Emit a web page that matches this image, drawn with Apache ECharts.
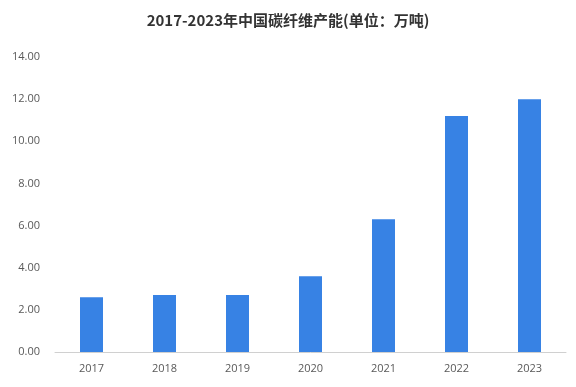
<!DOCTYPE html>
<html><head><meta charset="utf-8">
<script src="https://cdn.jsdelivr.net/npm/echarts@6/dist/echarts.min.js"></script>
<style>html,body{margin:0;padding:0;background:#fff}#c{width:576px;height:387px}</style>
</head><body><div id="c"></div>
<script>
const titleText = '2017-2023年中国碳纤维产能(单位：万吨)';
const categories = ['2017','2018','2019','2020','2021','2022','2023'];
const capacity = [2.6, 2.7, 2.7, 3.6, 6.3, 11.2, 12.0];
const yTicks = [0, 2, 4, 6, 8, 10, 12, 14];

const chart = echarts.init(document.getElementById('c'), null, {renderer:'canvas'});
chart.setOption({
  animation: false,
  backgroundColor: '#fff',
  title: {
    text: titleText, left: 'center', top: 8,
    textStyle: {fontFamily: 'Noto Sans CJK SC', fontSize: 15, fontWeight: 'bold', color: '#333'}
  },
  grid: {left: 55, right: 10, top: 57, bottom: 35},
  xAxis: {
    type: 'category', data: categories,
    axisLine: {lineStyle: {color: '#d0d0d0'}},
    axisTick: {show: false},
    axisLabel: {color: '#595959', fontSize: 11, fontFamily: 'Open Sans', margin: 11}
  },
  yAxis: {
    type: 'value', min: yTicks[0], max: yTicks[yTicks.length-1], interval: 2,
    axisLine: {show: false}, axisTick: {show: false}, splitLine: {show: false},
    axisLabel: {color: '#595959', fontSize: 11, fontFamily: 'Open Sans', margin: 15,
      formatter: v => v.toFixed(2)}
  },
  series: [{
    type: 'bar', data: capacity, barWidth: 23,
    itemStyle: {color: '#3782e4'}
  }]
});
</script></body></html>
